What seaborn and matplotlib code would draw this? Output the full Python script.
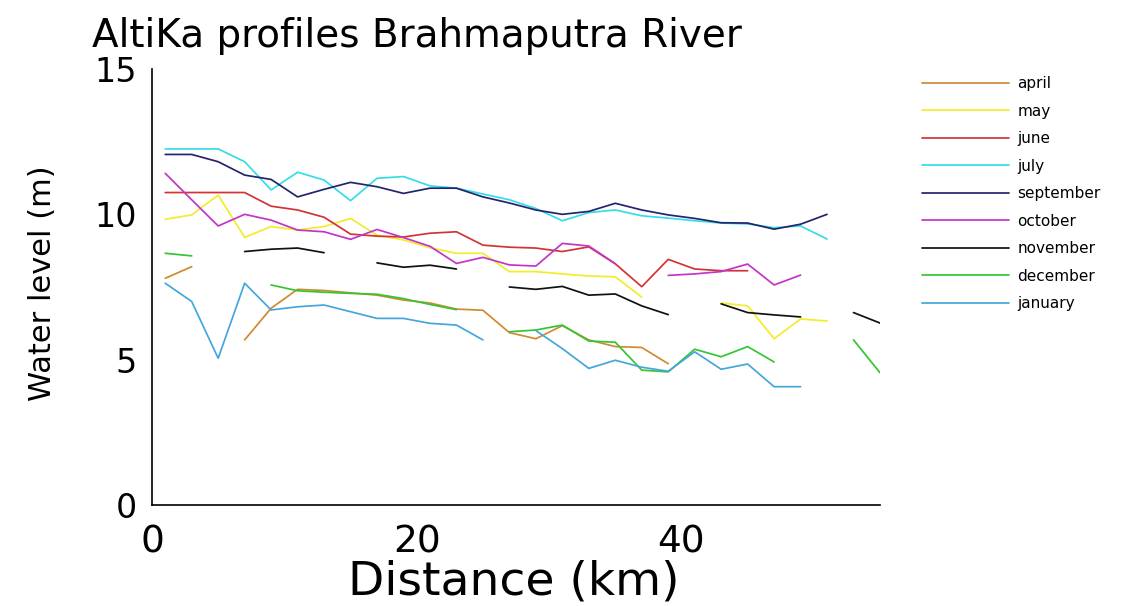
import numpy as np
import pandas as pd
import matplotlib
matplotlib.use("Agg")
import matplotlib.pyplot as plt
from matplotlib.lines import Line2D
import seaborn as sns

nan = np.nan

# Along-track distance (km) of the AltiKa samples
distance_km = np.arange(1, 56, 2)

months = ["april", "may", "june", "july", "september",
          "october", "november", "december", "january"]

#            1     3     5     7     9    11    13    15    17    19    21    23    25    27    29    31    33    35    37    39    41    43    45    47    49    51    53    55
april     = [7.80, 8.20, nan,  5.68, 6.77, 7.42, 7.38, 7.30, 7.22, 7.05, 6.95, 6.74, 6.70, 5.93, 5.72, 6.17, 5.68, 5.45, 5.42, 4.86, nan,  nan,  nan,  nan,  nan,  nan,  nan,  nan]
may       = [9.83, 9.98, 10.66, 9.21, 9.58, 9.46, 9.58, 9.86, 9.28, 9.12, 8.85, 8.66, 8.66, 8.03, 8.03, 7.95, 7.88, 7.85, 7.15, nan,  nan,  6.95, 6.85, 5.72, 6.40, 6.33, nan,  nan]
june      = [10.75, 10.75, 10.75, 10.75, 10.28, 10.15, 9.90, 9.32, 9.25, 9.22, 9.35, 9.40, 8.94, 8.87, 8.84, 8.72, 8.88, 8.30, 7.51, 8.45, 8.12, 8.06, 8.06, nan, nan, nan, nan, nan]
july      = [12.25, 12.25, 12.25, 11.81, 10.84, 11.45, 11.18, 10.47, 11.24, 11.30, 10.98, 10.90, 10.70, 10.50, 10.20, 9.78, 10.06, 10.15, 9.95, 9.87, 9.78, 9.70, 9.67, 9.54, 9.60, 9.15, nan, nan]
september = [12.06, 12.06, 11.81, 11.35, 11.20, 10.60, 10.86, 11.10, 10.95, 10.72, 10.90, 10.90, 10.60, 10.39, 10.15, 10.00, 10.10, 10.38, 10.15, 9.98, 9.86, 9.71, 9.70, 9.49, 9.66, 10.00, nan, nan]
october   = [11.41, 10.50, 9.60, 10.00, 9.80, 9.46, 9.40, 9.14, 9.48, 9.20, 8.90, 8.31, 8.52, 8.26, 8.22, 9.00, 8.91, 8.30, nan, 7.90, 7.95, 8.03, 8.29, 7.57, 7.91, nan, nan, nan]
november  = [nan,  nan,  nan,  8.72, 8.80, 8.84, 8.68, nan,  8.33, 8.18, 8.25, 8.12, nan,  7.50, 7.42, 7.52, 7.22, 7.26, 6.85, 6.55, nan,  6.92, 6.62, 6.54, 6.47, nan,  6.62, 6.26]
december  = [8.66, 8.57, nan,  nan,  7.57, 7.37, 7.32, 7.28, 7.25, 7.10, 6.90, 6.72, nan,  5.96, 6.02, 6.19, 5.64, 5.60, 4.64, 4.58, 5.36, 5.10, 5.45, 4.92, nan,  nan,  5.68, 4.55]
january   = [7.63, 7.00, 5.05, 7.63, 6.71, 6.82, 6.88, 6.65, 6.42, 6.42, 6.25, 6.19, 5.68, nan,  6.00, 5.38, 4.70, 4.98, 4.74, 4.60, 5.27, 4.67, 4.85, 4.07, 4.07, nan,  nan,  nan]

series = [april, may, june, july, september, october, november, december, january]

colors = {
    "april": "#D08A30",
    "may": "#F2EC2A",
    "june": "#D23434",
    "july": "#35DDE6",
    "september": "#24246E",
    "october": "#C235C6",
    "november": "#111111",
    "december": "#33C633",
    "january": "#45A6DC",
}

# Long table; NaN gaps split each profile into separate segments (units)
rows = []
for m, vals in zip(months, series):
    seg = 0
    gap = True
    for d, v in zip(distance_km, vals):
        if np.isnan(v):
            gap = True
            continue
        if gap:
            seg += 1
            gap = False
        rows.append({"month": m, "distance": d, "level": v, "seg": f"{m}-{seg}"})
df = pd.DataFrame(rows)

sns.set_theme(style="white")
plt.rcParams["font.family"] = ["DejaVu Sans"]
plt.rcParams["text.color"] = "black"
plt.rcParams["axes.labelcolor"] = "black"
plt.rcParams["xtick.color"] = "black"
plt.rcParams["ytick.color"] = "black"

W, H = 1136, 606
fig = plt.figure(figsize=(W / 100, H / 100), dpi=100)
ax = fig.add_axes([152 / W, 1 - 505 / H, (880 - 152) / W, (505 - 69) / H])

sns.lineplot(data=df, x="distance", y="level", hue="month", hue_order=months,
             palette=colors, units="seg", estimator=None, linewidth=1.25,
             legend=False, ax=ax)

ax.set_xlim(0, 55)
ax.set_ylim(0, 15)
ax.set_xticks([0, 20, 40])
ax.set_yticks([0, 5, 10, 15])
ax.set_xlabel("")
ax.set_ylabel("")
for s in ["top", "right"]:
    ax.spines[s].set_visible(False)
for s in ["left", "bottom"]:
    ax.spines[s].set_color("black")
    ax.spines[s].set_linewidth(1.2)
ax.tick_params(axis="both", direction="in", length=7, width=1.0,
               colors="black", labelcolor="black")
ax.tick_params(axis="x", labelsize=27, pad=14)
ax.tick_params(axis="y", labelsize=24, pad=11)

fig.text(92 / W, 1 - 36 / H, "AltiKa profiles Brahmaputra River",
         fontsize=28, ha="left", va="center", color="black")
fig.text(514 / W, 1 - 582 / H, "Distance (km)", fontsize=34,
         ha="center", va="center", color="black")
fig.text(43 / W, 1 - 283 / H, "Water level (m)", fontsize=22, rotation=90,
         ha="center", va="center", color="black")

handles = [Line2D([], [], color=colors[m], lw=1.25) for m in months]
fig.legend(handles, months, loc="upper left",
           bbox_to_anchor=(922 / W, 1 - 76 / H), frameon=False, fontsize=11,
           handlelength=5.7, handletextpad=0.55, labelspacing=0.82,
           borderpad=0, borderaxespad=0, labelcolor="black")

fig.savefig("out.png", dpi=100)
